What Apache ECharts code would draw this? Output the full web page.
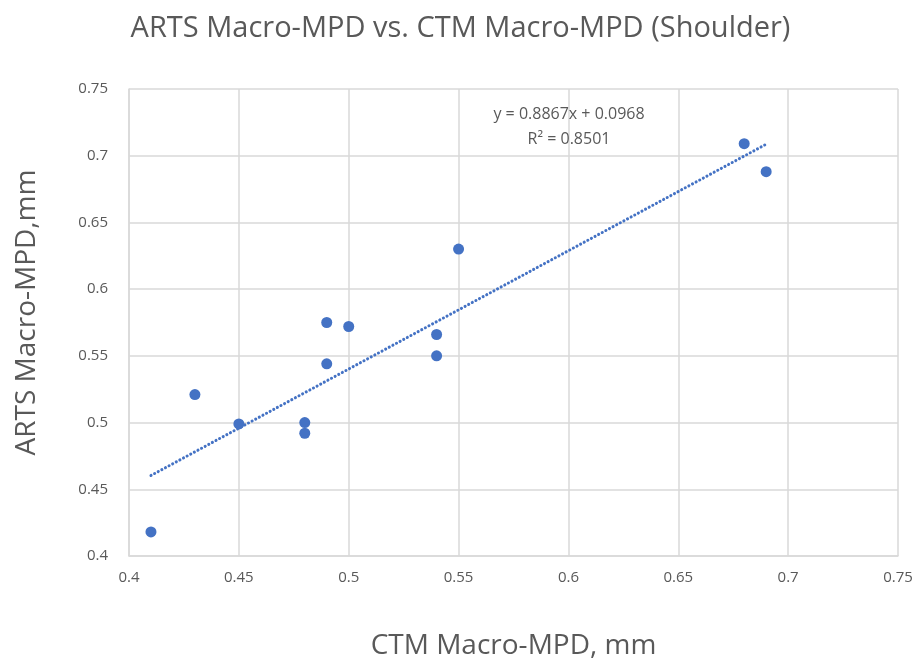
<!DOCTYPE html>
<html>
<head>
<meta charset="utf-8">
<script src="https://cdn.jsdelivr.net/npm/echarts@6/dist/echarts.min.js"></script>
<style>
html,body{margin:0;padding:0;background:#fff;}
#chart{width:921px;height:665px;}
</style>
</head>
<body>
<div id="chart"></div>
<script>
// CTM vs ARTS macro mean profile depth, shoulder measurements (mm)
const ctmMpd  = [0.41, 0.43, 0.45, 0.48, 0.48, 0.49, 0.50, 0.49, 0.54, 0.54, 0.55, 0.68, 0.69];
const artsMpd = [0.418, 0.521, 0.499, 0.500, 0.492, 0.575, 0.572, 0.544, 0.566, 0.550, 0.630, 0.709, 0.688];

// Linear trendline coefficients (as printed on the chart)
const slope = 0.8867;
const intercept = 0.0968;
const rSquared = 0.8501;

const axisTicks = { min: 0.4, max: 0.75, interval: 0.05 };

const points = ctmMpd.map((x, i) => [x, artsMpd[i]]);
const xLo = Math.min(...ctmMpd), xHi = Math.max(...ctmMpd);
const trend = [[xLo, slope * xLo + intercept], [xHi, slope * xHi + intercept]];

const fontFam = '"Open Sans", Lato, sans-serif';
const textGrey = '#595959';
const gridGrey = '#d9d9d9';
const blue = '#4472C4';

const fmt = v => String(Math.round(v * 100) / 100);

const chart = echarts.init(document.getElementById('chart'));
chart.setOption({
  animation: false,
  backgroundColor: '#fff',
  title: [
    {
      text: 'ARTS Macro-MPD vs. CTM Macro-MPD (Shoulder)',
      left: 'center', top: 9,
      textStyle: { fontFamily: fontFam, fontSize: 29, fontWeight: 'normal', color: textGrey }
    },
    {
      text: 'y = ' + slope + 'x + ' + intercept + '\nR² = ' + rSquared,
      left: 564, top: 97, textAlign: 'center',
      textStyle: { fontFamily: fontFam, fontSize: 16, fontWeight: 'normal', color: textGrey, lineHeight: 25, align: 'center' }
    }
  ],
  grid: { left: 129, top: 89, width: 769, height: 469 },
  xAxis: {
    type: 'value',
    min: axisTicks.min, max: axisTicks.max, interval: axisTicks.interval,
    name: 'CTM Macro-MPD, mm',
    nameLocation: 'middle', nameGap: 76,
    nameTextStyle: { fontFamily: fontFam, fontSize: 28, color: textGrey },
    axisLine: { show: true, lineStyle: { color: gridGrey, width: 1.5 } },
    axisTick: { show: false },
    axisLabel: { formatter: fmt, fontFamily: fontFam, fontSize: 15, color: textGrey, margin: 14 },
    splitLine: { show: true, lineStyle: { color: gridGrey, width: 1.5 } }
  },
  yAxis: {
    type: 'value',
    min: axisTicks.min, max: axisTicks.max, interval: axisTicks.interval,
    name: 'ARTS Macro-MPD,mm',
    nameLocation: 'middle', nameGap: 88,
    nameTextStyle: { fontFamily: fontFam, fontSize: 28, color: textGrey, padding: [0, 0, 0, 20] },
    axisLine: { show: true, lineStyle: { color: gridGrey, width: 1.5 } },
    axisTick: { show: false },
    axisLabel: { formatter: fmt, fontFamily: fontFam, fontSize: 15, color: textGrey, margin: 21 },
    splitLine: { show: true, lineStyle: { color: gridGrey, width: 1.5 } }
  },
  series: [
    {
      type: 'line',
      data: trend,
      symbol: 'none',
      lineStyle: { color: blue, width: 3, type: [0.1, 4], cap: 'round' },
      z: 2
    },
    {
      type: 'scatter',
      data: points,
      symbol: 'circle',
      symbolSize: 11,
      itemStyle: { color: blue, opacity: 1 },
      z: 3
    }
  ]
});
</script>
</body>
</html>
